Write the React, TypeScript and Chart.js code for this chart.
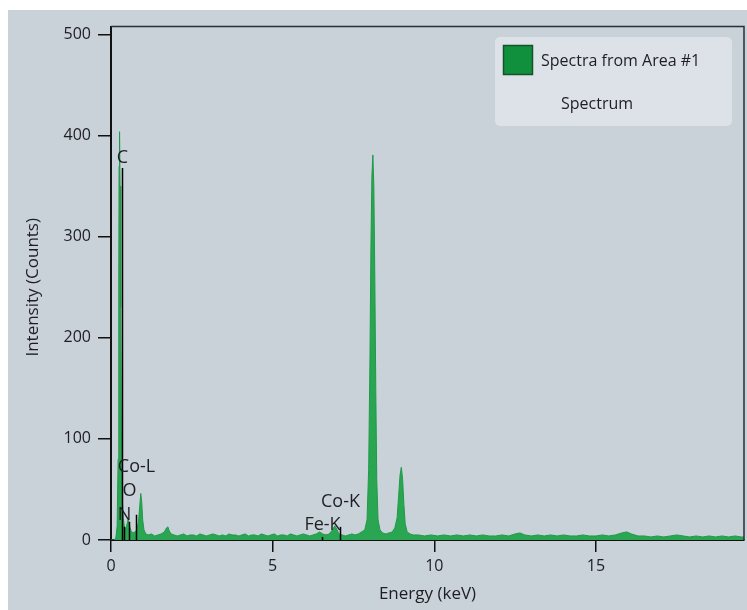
import React, { useEffect, useRef } from "react";
import { Chart, registerables } from "chart.js";

Chart.register(...registerables);

// ---- Data ----
const spectrumEnergy = [
  0.0, 0.1, 0.15, 0.19, 0.22, 0.24, 0.25, 0.26, 0.27, 0.28, 0.3, 0.32, 0.35, 0.38, 0.41, 0.45, 0.49, 0.53, 0.57, 0.62,
  0.68, 0.74, 0.8, 0.85, 0.89, 0.92, 0.95, 0.98, 1.02, 1.08, 1.15, 1.25, 1.35, 1.45, 1.55, 1.65, 1.72, 1.76, 1.8, 1.86,
  1.95, 2.05, 2.15, 2.25, 2.35, 2.45, 2.55, 2.65, 2.75, 2.85, 2.95, 3.05, 3.15, 3.25, 3.35, 3.45, 3.55, 3.65, 3.75, 3.85,
  3.95, 4.05, 4.15, 4.25, 4.35, 4.45, 4.55, 4.65, 4.75, 4.85, 4.95, 5.05, 5.15, 5.25, 5.35, 5.45, 5.55, 5.65, 5.75, 5.85,
  5.95, 6.05, 6.15, 6.25, 6.35, 6.45, 6.55, 6.65, 6.75, 6.85, 6.92, 6.98, 7.05, 7.15, 7.25, 7.35, 7.45, 7.55, 7.65, 7.75,
  7.85, 7.92, 7.97, 8.01, 8.04, 8.07, 8.1, 8.13, 8.16, 8.19, 8.22, 8.26, 8.32, 8.4, 8.5, 8.6, 8.7, 8.78, 8.85, 8.9,
  8.94, 8.98, 9.02, 9.06, 9.1, 9.16, 9.25, 9.35, 9.5, 9.7, 9.9, 10.1, 10.3, 10.5, 10.7, 10.9, 11.1, 11.3, 11.5, 11.7,
  11.9, 12.1, 12.3, 12.5, 12.65, 12.8, 13.0, 13.2, 13.4, 13.6, 13.8, 14.0, 14.2, 14.4, 14.6, 14.8, 15.0, 15.2, 15.4, 15.6,
  15.8, 15.95, 16.1, 16.3, 16.5, 16.7, 16.9, 17.1, 17.3, 17.5, 17.7, 17.9, 18.1, 18.3, 18.5, 18.7, 18.9, 19.1, 19.3, 19.5,
  19.58,
];
const spectrumCounts = [
  0, 0, 2, 14, 80, 250, 370, 404, 398, 350, 230, 110, 40, 22, 14, 10, 15, 20, 14, 9,
  7, 8, 10, 18, 34, 46, 38, 20, 10, 6, 5, 6, 4, 5, 6, 8, 12, 13, 9, 6,
  5, 4, 5, 6, 4, 5, 5, 4, 6, 5, 4, 5, 6, 5, 4, 5, 4, 6, 5, 5,
  4, 5, 6, 4, 5, 5, 4, 6, 5, 4, 5, 6, 4, 5, 5, 4, 6, 5, 4, 5,
  6, 5, 4, 5, 6, 8, 6, 5, 6, 10, 14, 11, 6, 5, 4, 5, 6, 5, 6, 8,
  10, 20, 70, 180, 290, 360, 381, 350, 260, 150, 60, 20, 10, 7, 6, 7, 8, 12, 22, 45,
  64, 72, 60, 35, 16, 8, 6, 5, 5, 4, 5, 4, 5, 4, 5, 4, 5, 4, 5, 4,
  4, 5, 4, 6, 7, 5, 4, 5, 4, 5, 4, 5, 4, 4, 5, 4, 4, 5, 4, 5,
  7, 8, 6, 4, 4, 3, 4, 3, 4, 5, 4, 3, 4, 3, 4, 3, 4, 3, 4, 3,
  3,
];

const elementNames = ["C", "N", "O", "Co-L", "Fe-K", "Co-K"];
const elementEnergy = [0.33, 0.41, 0.57, 0.76, 6.53, 7.08];
const elementLineTop = [368, 13, 18, 25, 3, 13];
const elementLabelY = [378, 25, 49, 72, 15, 38];

const xTicks = [0, 5, 10, 15];
const yTicks = [0, 100, 200, 300, 400, 500];
const xMax = 19.58;
const yMax = 508;

const seriesName = "Spectra from Area #1";
const seriesSub = "Spectrum";
const xTitle = "Energy (keV)";
const yTitle = "Intensity (Counts)";

const FONT = "'Open Sans', 'Noto Sans', sans-serif";
const TEXT = "#1e1e24";

const overlayPlugin = {
  id: "overlay",
  afterDatasetsDraw(chart: any) {
    const { ctx, chartArea, scales } = chart;
    const xs = scales.x;
    const ys = scales.y;
    ctx.save();
    // frame top & right
    ctx.strokeStyle = "#2a2e36";
    ctx.lineWidth = 1.5;
    ctx.beginPath();
    ctx.moveTo(chartArea.left, chartArea.top);
    ctx.lineTo(chartArea.right, chartArea.top);
    ctx.lineTo(chartArea.right, chartArea.bottom);
    ctx.stroke();
    // element markers
    ctx.strokeStyle = "#000";
    ctx.lineWidth = 1.5;
    ctx.font = `18px ${FONT}`;
    ctx.fillStyle = TEXT;
    ctx.textAlign = "center";
    ctx.textBaseline = "middle";
    elementNames.forEach((name, i) => {
      const px = Math.round(xs.getPixelForValue(elementEnergy[i])) + 0.5;
      ctx.beginPath();
      ctx.moveTo(px, ys.getPixelForValue(0));
      ctx.lineTo(px, ys.getPixelForValue(elementLineTop[i]));
      ctx.stroke();
      ctx.fillText(name, px, ys.getPixelForValue(elementLabelY[i]));
    });
    ctx.restore();
  },
  afterDraw(chart: any) {
    const { ctx, chartArea } = chart;
    ctx.save();
    // axis titles
    ctx.fillStyle = TEXT;
    ctx.font = `17px ${FONT}`;
    ctx.textAlign = "center";
    ctx.textBaseline = "middle";
    ctx.fillText(xTitle, (chartArea.left + chartArea.right) / 2, 584);
    ctx.save();
    ctx.translate(25, (chartArea.top + chartArea.bottom) / 2 + 4);
    ctx.rotate(-Math.PI / 2);
    ctx.fillText(yTitle, 0, 0);
    ctx.restore();
    // legend
    const lx = 487, ly = 27, lw = 237, lh = 89;
    ctx.fillStyle = "#dde2e8";
    ctx.beginPath();
    (ctx as any).roundRect(lx, ly, lw, lh, 5);
    ctx.fill();
    ctx.fillStyle = "#10903c";
    ctx.fillRect(lx + 8, ly + 8, 30, 30);
    ctx.strokeStyle = "#16522a";
    ctx.lineWidth = 1.5;
    ctx.strokeRect(lx + 8.5, ly + 8.5, 29, 29);
    ctx.fillStyle = TEXT;
    ctx.font = `16px ${FONT}`;
    ctx.textAlign = "left";
    ctx.textBaseline = "middle";
    ctx.fillText(seriesName, lx + 46, ly + 24);
    ctx.fillText(seriesSub, lx + 66, ly + 67);
    ctx.restore();
  },
};

export default function App() {
  const ref = useRef<HTMLCanvasElement>(null);
  useEffect(() => {
    if (!ref.current) return;
    const data = spectrumEnergy.map((e, i) => ({ x: e, y: spectrumCounts[i] }));
    const chart = new Chart(ref.current, {
      type: "line",
      data: {
        datasets: [
          {
            label: seriesName,
            data,
            fill: "origin",
            backgroundColor: "#2aa653",
            borderColor: "#1f9a48",
            borderWidth: 1,
            pointRadius: 0,
            tension: 0,
          },
        ],
      },
      options: {
        responsive: false,
        animation: false,
        layout: { padding: { left: 0, top: 13, right: 3, bottom: 0 } },
        plugins: { legend: { display: false }, tooltip: { enabled: false } },
        scales: {
          x: {
            type: "linear",
            min: 0,
            max: xMax,
            afterFit: (s: any) => {
              s.height = 70;
            },
            afterBuildTicks: (s: any) => {
              s.ticks = xTicks.map((v) => ({ value: v }));
            },
            grid: { drawOnChartArea: false, tickLength: 12, color: "#111", lineWidth: 1.5 },
            border: { display: true, color: "#111", width: 2 },
            ticks: { color: TEXT, font: { size: 16, family: FONT }, padding: 5, maxRotation: 0 },
          },
          y: {
            type: "linear",
            min: 0,
            max: yMax,
            afterFit: (s: any) => {
              s.width = 103;
            },
            afterBuildTicks: (s: any) => {
              s.ticks = yTicks.map((v) => ({ value: v }));
            },
            grid: { drawOnChartArea: false, tickLength: 13, color: "#111", lineWidth: 1.5 },
            border: { display: true, color: "#111", width: 2 },
            ticks: { color: TEXT, font: { size: 16, family: FONT }, padding: 7 },
          },
        },
      },
      plugins: [overlayPlugin],
    });
    return () => chart.destroy();
  }, []);
  return (
    <div
      style={{
        position: "absolute",
        left: 8,
        top: 10,
        width: 739,
        height: 600,
        background: "#c9d1d9",
      }}
    >
      <canvas ref={ref} width={739} height={600} style={{ width: 739, height: 600, display: "block" }} />
    </div>
  );
}
